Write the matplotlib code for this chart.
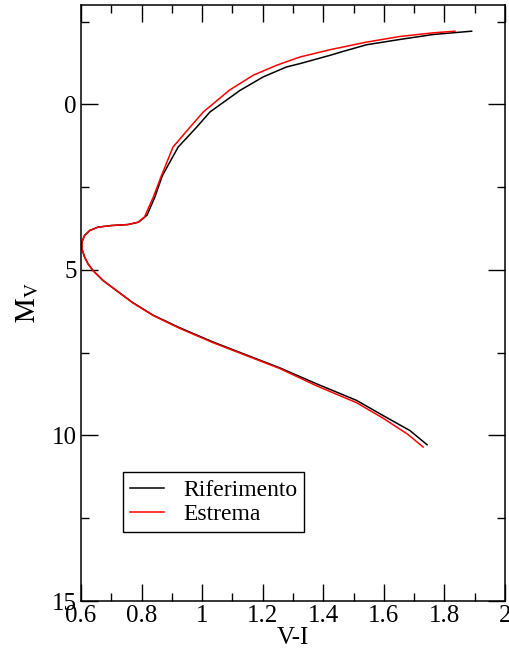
import matplotlib
matplotlib.use('Agg')
import matplotlib.pyplot as plt
from matplotlib.ticker import MultipleLocator

plt.rcParams['font.family'] = ['Liberation Serif', 'DejaVu Serif']
plt.rcParams['mathtext.fontset'] = 'stix'

# isochrone points, from lower main sequence up to the RGB tip
rif_vi = [1.743, 1.686, 1.598, 1.510, 1.378, 1.257, 1.037, 0.927, 0.839, 0.770,
          0.717, 0.673, 0.640, 0.623, 0.612, 0.603, 0.603, 0.612, 0.629, 0.656,
          0.700, 0.755, 0.790, 0.818, 0.844, 0.869, 0.921, 0.982, 1.026, 1.125,
          1.202, 1.279, 1.323, 1.422, 1.466, 1.543, 1.653, 1.763, 1.890]
rif_mv = [10.28, 9.85, 9.40, 8.94, 8.44, 7.96, 7.18, 6.75, 6.37, 5.98,
          5.62, 5.32, 5.02, 4.81, 4.61, 4.36, 4.16, 3.96, 3.81, 3.71,
          3.66, 3.63, 3.56, 3.35, 2.80, 2.15, 1.29, 0.69, 0.23, -0.42,
          -0.83, -1.13, -1.23, -1.48, -1.60, -1.80, -1.96, -2.11, -2.21]

est_vi = [1.730, 1.680, 1.598, 1.510, 1.378, 1.257, 1.037, 0.927, 0.839, 0.770,
          0.717, 0.673, 0.640, 0.623, 0.612, 0.603, 0.603, 0.612, 0.629, 0.656,
          0.700, 0.755, 0.788, 0.810, 0.839, 0.866, 0.904, 0.960, 1.004, 1.092,
          1.169, 1.246, 1.323, 1.422, 1.543, 1.653, 1.763, 1.835]
est_mv = [10.35, 9.97, 9.48, 9.01, 8.50, 7.98, 7.20, 6.77, 6.38, 5.99,
          5.62, 5.32, 5.02, 4.81, 4.61, 4.36, 4.16, 3.96, 3.81, 3.71,
          3.66, 3.63, 3.56, 3.40, 2.80, 2.15, 1.29, 0.69, 0.23, -0.44,
          -0.88, -1.18, -1.43, -1.65, -1.88, -2.05, -2.16, -2.21]

fig = plt.figure(figsize=(5.09, 6.53), dpi=100)
ax = fig.add_axes([0.159, 0.0796, 0.833, 0.9127])

ax.plot(rif_vi, rif_mv, color='black', lw=1.1, label='Riferimento')
ax.plot(est_vi, est_mv, color='red', lw=1.1, label='Estrema')

ax.set_xlim(0.6, 2.0)
ax.set_ylim(15, -3)
ax.xaxis.set_minor_locator(MultipleLocator(0.1))
ax.yaxis.set_major_locator(MultipleLocator(5))
ax.yaxis.set_minor_locator(MultipleLocator(2.5))
ax.set_xticks([0.6, 0.8, 1.0, 1.2, 1.4, 1.6, 1.8, 2.0])
ax.set_xticklabels(['0.6', '0.8', '1', '1.2', '1.4', '1.6', '1.8', '2'])
ax.tick_params(which='both', direction='in', top=True, right=True,
               labelsize=18, width=1.0, pad=3)
ax.tick_params(which='major', length=12)
ax.tick_params(which='minor', length=6)
for s in ax.spines.values():
    s.set_linewidth(1.1)

ax.set_xlabel('V-I', fontsize=18, labelpad=0)
ax.set_ylabel(r'$\mathrm{M_V}$', fontsize=20, labelpad=8)

leg = ax.legend(loc='lower left', bbox_to_anchor=(0.099, 0.116), borderaxespad=0,
                fontsize=17, handlelength=1.45, fancybox=False, framealpha=1,
                edgecolor='black', borderpad=0.3, labelspacing=0.1,
                handletextpad=0.8)
leg.get_frame().set_linewidth(1.0)

fig.savefig('out.png', dpi=100)
